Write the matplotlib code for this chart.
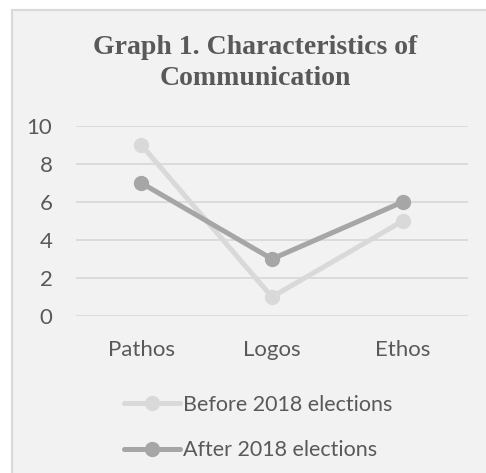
import matplotlib
matplotlib.use("Agg")
import matplotlib.pyplot as plt
from matplotlib.patches import Rectangle

categories = ["Pathos", "Logos", "Ethos"]
before_2018 = [9, 1, 5]
after_2018 = [7, 3, 6]
series_labels = ["Before 2018 elections", "After 2018 elections"]
y_ticks = [0, 2, 4, 6, 8, 10]
title = "Graph 1. Characteristics of\nCommunication"

W, H = 486, 473
fig = plt.figure(figsize=(W / 100, H / 100), dpi=100)
fig.patch.set_facecolor("white")
bg = Rectangle((12 / W, -0.01), 1, 1.01 - 10 / H, transform=fig.transFigure,
               facecolor="#f2f2f2", edgecolor="#d9d9d9", linewidth=1.5, zorder=-10)
fig.patches.append(bg)

ax = fig.add_axes([76 / W, (H - 316) / H, (468 - 76) / W, (316 - 126) / H])
ax.set_facecolor("none")
x = list(range(len(categories)))
c_before = "#d9d9d9"
c_after = "#a6a6a6"
ax.plot(x, before_2018, color=c_before, lw=3.6, marker="o", ms=10, label=series_labels[0],
        solid_capstyle="round", zorder=3)
ax.plot(x, after_2018, color=c_after, lw=3.6, marker="o", ms=10, label=series_labels[1],
        solid_capstyle="round", zorder=4)
ax.set_xlim(-0.5, 2.5)
ax.set_ylim(0, 10)
ax.set_yticks(y_ticks)
ax.set_xticks(x)
ax.set_xticklabels(categories)
ax.grid(axis="y", color="#d9d9d9", lw=1.3)
ax.set_axisbelow(True)
for s in ax.spines.values():
    s.set_visible(False)
ax.tick_params(length=0, labelsize=16, labelcolor="#595959", pad=0)
ax.tick_params(axis="y", pad=17)
ax.tick_params(axis="x", pad=17)
for lab in ax.get_xticklabels() + ax.get_yticklabels():
    lab.set_fontfamily("Lato")

fig.text(255 / W, 1 - 63 / H, title, ha="center", va="center", fontsize=20,
         fontweight="bold", family="Liberation Serif", color="#595959", linespacing=1.35)

leg = fig.legend(loc="upper left", bbox_to_anchor=(113 / W, 1 - 384 / H), frameon=False,
                 prop={"family": "Lato", "size": 15.5}, labelcolor="#595959",
                 handlelength=2.6, handletextpad=0.15, labelspacing=1.18, borderpad=0)

fig.savefig("out.png", dpi=100, facecolor=fig.get_facecolor())
